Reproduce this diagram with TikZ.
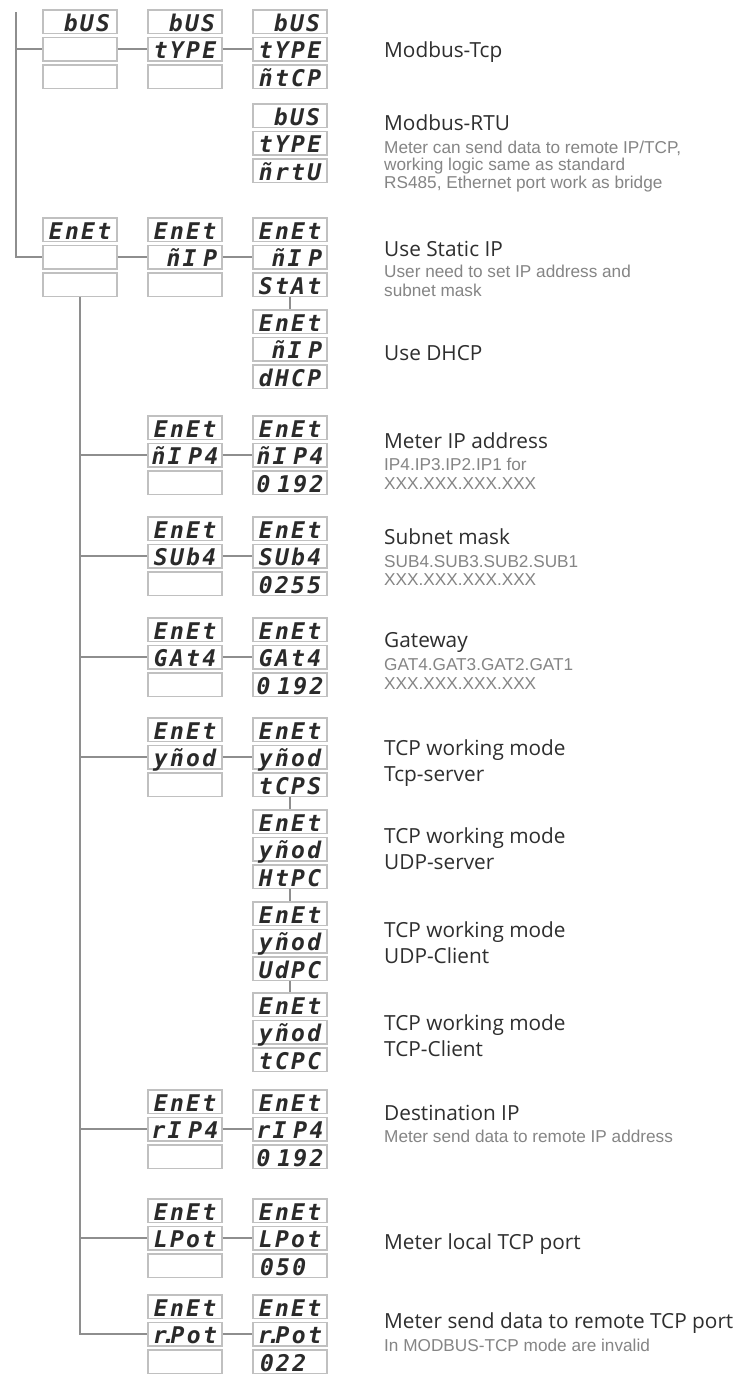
\documentclass[tikz,border=0pt]{standalone}
\usepackage{fontspec}
\newfontfamily\titlefont{Open Sans}
\newfontfamily\subfont{Liberation Sans}
\newfontfamily\segfont{DejaVu Sans Mono Bold Oblique}[LetterSpace=10]
\definecolor{titlecol}{HTML}{2E2E2E}
\definecolor{subcol}{HTML}{858585}
\definecolor{linecol}{HTML}{8E8E8E}
\definecolor{boxcol}{HTML}{C0C0C0}
\definecolor{segcol}{HTML}{2A2A2A}
\newcommand{\cellstk}[6]{%
  \node[cell] (#1a) at (#2,#3+11.75) {#4};
  \node[cell] (#1b) at (#2,#3+39.25) {#5};
  \node[cell] (#1c) at (#2,#3+66.75) {#6};
}
\newcommand{\pad}{\hphantom{0}}
\newcommand{\gap}{\kern.3em}
\begin{document}
\begin{tikzpicture}[x=1pt,y=-1pt,
  cell/.style={draw=boxcol, line width=1.4pt, fill=white, inner xsep=2pt, inner ysep=0pt,
    text width=70pt, align=center, text height=21pt, text depth=2.5pt,
    font=\segfont\fontsize{23}{23}\selectfont, text=segcol},
  conn/.style={draw=linecol, line width=1.9pt},
  ttl/.style={anchor=base west, inner sep=0pt, font=\titlefont\fontsize{20.8}{24}\selectfont, text=titlecol},
  sub/.style={anchor=base west, inner sep=0pt, font=\subfont\fontsize{17.2}{19}\selectfont, text=subcol}]
\useasboundingbox (0,0) rectangle (737,1374);
\fill[white] (0,0) rectangle (737,1374);

% ---- cell stacks
\cellstk{bA}{80}{10}{\pad bUS}{}{}
\cellstk{bB}{185}{10}{\pad bUS}{tYPE}{}
\cellstk{bC}{290}{10}{\pad bUS}{tYPE}{ñtCP}
\cellstk{rt}{290}{104}{\pad bUS}{tYPE}{ñrtU}
\cellstk{eA}{80}{218}{EnEt}{}{}
\cellstk{eB}{185}{218}{EnEt}{\pad ñI\gap P}{}
\cellstk{eC}{290}{218}{EnEt}{\pad ñI\gap P}{StAt}
\cellstk{dh}{290}{310}{EnEt}{\pad ñI\gap P}{dHCP}
\cellstk{ipB}{185}{416}{EnEt}{ñI\gap P4}{}
\cellstk{ipC}{290}{416}{EnEt}{ñI\gap P4}{0\gap 192}
\cellstk{sbB}{185}{517}{EnEt}{SUb4}{}
\cellstk{sbC}{290}{517}{EnEt}{SUb4}{0255}
\cellstk{gtB}{185}{618}{EnEt}{GAt4}{}
\cellstk{gtC}{290}{618}{EnEt}{GAt4}{0\gap 192}
\cellstk{wmB}{185}{718}{EnEt}{yñod}{}
\cellstk{wmC}{290}{718}{EnEt}{yñod}{tCPS}
\cellstk{hp}{290}{810}{EnEt}{yñod}{HtPC}
\cellstk{ud}{290}{902}{EnEt}{yñod}{UdPC}
\cellstk{tc}{290}{993}{EnEt}{yñod}{tCPC}
\cellstk{riB}{185}{1090}{EnEt}{rI\gap P4}{}
\cellstk{riC}{290}{1090}{EnEt}{rI\gap P4}{0\gap 192}
\cellstk{lpB}{185}{1199}{EnEt}{LPot}{}
\cellstk{lpC}{290}{1199}{EnEt}{LPot}{050\pad}
\cellstk{rpB}{185}{1295}{EnEt}{r\kern-.22em.\kern-.22em Pot}{}
\cellstk{rpC}{290}{1295}{EnEt}{r\kern-.22em.\kern-.22em Pot}{022\pad}

% ---- connectors
\coordinate (trtop) at (16,12);
\draw[conn] (trtop) |- (eAb.west);
\draw[conn] (trtop |- bAb.west) -- (bAb.west);
\draw[conn] (bAb.east) -- (bBb.west);
\draw[conn] (bBb.east) -- (bCb.west);
\draw[conn] (eAb.east) -- (eBb.west);
\draw[conn] (eBb.east) -- (eCb.west);
\draw[conn] (eCc.south) -- (dha.north);
\draw[conn] (eAc.south) |- (rpBb.west);
\foreach \g in {ipB,sbB,gtB,wmB,riB,lpB}{
  \draw[conn] (eAc.south |- \g b.west) -- (\g b.west);
}
\draw[conn] (ipBb.east) -- (ipCb.west);
\draw[conn] (sbBb.east) -- (sbCb.west);
\draw[conn] (gtBb.east) -- (gtCb.west);
\draw[conn] (wmBb.east) -- (wmCb.west);
\draw[conn] (riBb.east) -- (riCb.west);
\draw[conn] (lpBb.east) -- (lpCb.west);
\draw[conn] (rpBb.east) -- (rpCb.west);
\draw[conn] (wmCc.south) -- (hpa.north);
\draw[conn] (hpc.south) -- (uda.north);
\draw[conn] (udc.south) -- (tca.north);

% ---- descriptions
\node[ttl] (t1) at (384,57) {Modbus-Tcp};
\node[ttl] (t2) at (384,130) {Modbus-RTU};
\node[sub] (s2a) at (384,153) {Meter can send data to remote IP/TCP,};
\node[sub] (s2b) at (384,170.5) {working logic same as standard};
\node[sub] (s2c) at (384,188) {RS485, Ethernet port work as bridge};
\node[ttl] (t3) at (384,256) {Use Static IP};
\node[sub] (s3a) at (384,277) {User need to set IP address and};
\node[sub] (s3b) at (384,296) {subnet mask};
\node[ttl] (t4) at (384,360) {Use DHCP};
\node[ttl] (t5) at (384,448) {Meter IP address};
\node[sub] (s5a) at (384,470) {IP4.IP3.IP2.IP1 for};
\node[sub] (s5b) at (384,489) {XXX.XXX.XXX.XXX};
\node[ttl] (t6) at (384,544) {Subnet mask};
\node[sub] (s6a) at (384,567) {SUB4.SUB3.SUB2.SUB1};
\node[sub] (s6b) at (384,585) {XXX.XXX.XXX.XXX};
\node[ttl] (t7) at (384,647) {Gateway};
\node[sub] (s7a) at (384,670) {GAT4.GAT3.GAT2.GAT1};
\node[sub] (s7b) at (384,689) {XXX.XXX.XXX.XXX};
\node[ttl] (t8a) at (384,755) {TCP working mode};
\node[ttl] (t8b) at (384,781) {Tcp-server};
\node[ttl] (t9a) at (384,843) {TCP working mode};
\node[ttl] (t9b) at (384,869) {UDP-server};
\node[ttl] (t10a) at (384,937) {TCP working mode};
\node[ttl] (t10b) at (384,963) {UDP-Client};
\node[ttl] (t11a) at (384,1030) {TCP working mode};
\node[ttl] (t11b) at (384,1056) {TCP-Client};
\node[ttl] (t12) at (384,1120) {Destination IP};
\node[sub] (s12) at (384,1142) {Meter send data to remote IP address};
\node[ttl] (t13) at (384,1249) {Meter local TCP port};
\node[ttl] (t14) at (384,1328) {Meter send data to remote TCP port};
\node[sub] (s14) at (384,1351) {In MODBUS-TCP mode are invalid};
\end{tikzpicture}
\end{document}
